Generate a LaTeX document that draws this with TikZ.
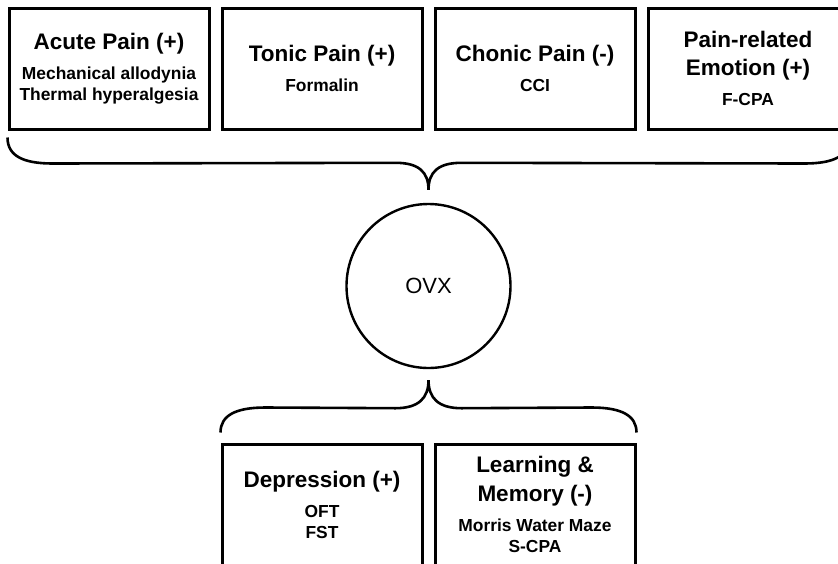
\documentclass[tikz,border=0pt]{standalone}
\usepackage{fontspec}
\setmainfont{Liberation Sans}
\usepackage{tikz}
\usetikzlibrary{positioning,calc}
\newcommand\hd[1]{{\fontsize{22.5}{28}\selectfont #1}}

\begin{document}
\begin{tikzpicture}[x=1pt, y=-1pt,
  node distance=10pt,
  box/.style={draw, line width=3pt, minimum width=200pt, minimum height=121pt, inner sep=0pt, align=center, font=\fontsize{17.4}{21}\selectfont\bfseries},
  hub/.style={draw, circle, line width=2.4pt, minimum size=164pt, font=\fontsize{22}{26}\selectfont},
  brc/.style={line width=2.6pt}]
  \useasboundingbox (0,0) rectangle (838,563);
  \node[box] (acute) at (109,68.5) {\hd{Acute Pain (+)}\\[9pt]Mechanical allodynia\\Thermal hyperalgesia};
  \node[box, right=of acute] (tonic) {\hd{Tonic Pain (+)}\\[9pt]Formalin};
  \node[box, right=of tonic] (chronic) {\hd{Chonic Pain (-)}\\[9pt]CCI};
  \node[box, right=of chronic] (emotion) {\hd{Pain-related}\\[7pt]\hd{Emotion (+)}\\[9pt]F-CPA};
  \node[hub] (ovx) at (428.5,286) {OVX};
  \node[box] (depr) at (322,504.5) {\hd{Depression (+)}\\[9pt]OFT\\FST};
  \node[box, right=of depr] (learn) {\hd{Learning \&}\\[7pt]\hd{Memory (-)}\\[9pt]Morris Water Maze\\S-CPA};
  % braces
  \coordinate (tl) at ($(acute.south west)+(0,7)$);
  \coordinate (tr) at ($(emotion.south east)+(0,7)$);
  \coordinate (tt) at ($(ovx.north)+(0,-13)$);
  \draw[brc] (tl) .. controls +(0,18) and +(-30,0) .. ($(tl)+(45,26)$) -- ($(tt)+(-33,-27)$)
    .. controls +(23,0) and +(0,-18) .. (tt)
    .. controls +(0,-18) and +(-23,0) .. ($(tt)+(33,-27)$) -- ($(tr)+(-45,26)$)
    .. controls +(30,0) and +(0,18) .. (tr);
  \coordinate (bl) at ($(depr.north west)+(0,-10)$);
  \coordinate (br) at ($(learn.north east)+(0,-10)$);
  \coordinate (bt) at ($(ovx.south)+(0,11)$);
  \draw[brc] (bl) .. controls +(0,-17) and +(-30,0) .. ($(bl)+(45,-25)$) -- ($(bt)+(-33,28)$)
    .. controls +(23,0) and +(0,18) .. (bt)
    .. controls +(0,18) and +(-23,0) .. ($(bt)+(33,28)$) -- ($(br)+(-45,-25)$)
    .. controls +(30,0) and +(0,-17) .. (br);
\end{tikzpicture}
\end{document}
